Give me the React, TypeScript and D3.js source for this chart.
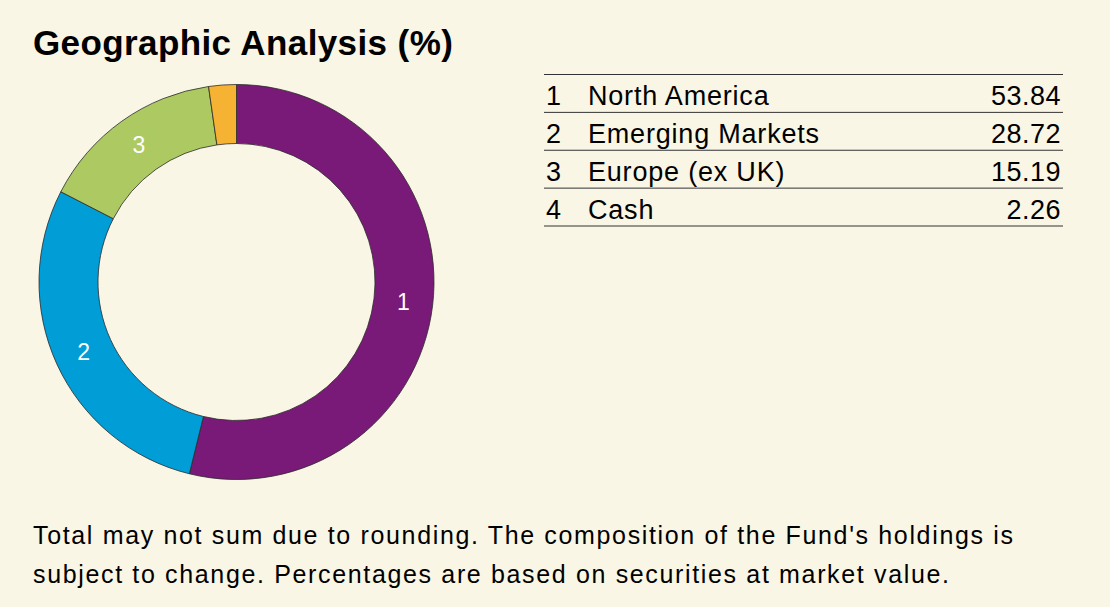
import React from "react";
import * as d3 from "d3";

const categories = ["North America", "Emerging Markets", "Europe (ex UK)", "Cash"];
const values = [53.84, 28.72, 15.19, 2.26];
const valueLabels = ["53.84", "28.72", "15.19", "2.26"];
const colors = ["#7a1a78", "#009dd7", "#adc962", "#f6b233"];
const footerLines = [
  "Total may not sum due to rounding. The composition of the Fund's holdings is",
  "subject to change. Percentages are based on securities at market value.",
];

const W = 1110;
const H = 607;
const font = "'Liberation Sans', Arial, Helvetica, sans-serif";

export default function App() {
  const cx = 236.5;
  const cy = 282;
  const outerR = 197.5;
  const innerR = 138.5;
  const pie = d3.pie<number>().sort(null).value((d) => d)(values);
  const arc = d3.arc<d3.PieArcDatum<number>>().innerRadius(innerR).outerRadius(outerR);

  const rowY = d3.scaleBand<number>().domain(d3.range(categories.length)).range([74.5, 226]);

  return (
    <svg width={W} height={H} style={{ position: "absolute", left: 0, top: 0, display: "block" }}>
      <rect x={0} y={0} width={W} height={H} fill="#f9f6e6" />
      <text x={33} y={55} fontFamily={font} fontWeight="bold" fontSize={35} letterSpacing={0.4} fill="#000">
        Geographic Analysis (%)
      </text>
      <g transform={`translate(${cx},${cy})`}>
        {pie.map((p, i) => (
          <path key={i} d={arc(p) || ""} fill={colors[i]} stroke="#2a2a2a" strokeWidth={0.8} />
        ))}
        {pie.map((p, i) => {
          if (i === 3) return null;
          const [x, y] = arc.centroid(p);
          return (
            <text
              key={i}
              x={x}
              y={y}
              dy="0.36em"
              textAnchor="middle"
              fontFamily={font}
              fontSize={23}
              fill="#fff"
            >
              {i + 1}
            </text>
          );
        })}
      </g>
      <g>
        <line x1={544} x2={1063} y1={74.5} y2={74.5} stroke="#333" strokeWidth={1} />
        {categories.map((c, i) => {
          const y0 = rowY(i) as number;
          const bw = rowY.bandwidth();
          const base = y0 + bw - 7.3;
          return (
            <g key={c}>
              <text x={546} y={base} fontFamily={font} fontSize={27} fill="#000">
                {i + 1}
              </text>
              <text x={588} y={base} fontFamily={font} fontSize={27} letterSpacing={0.8} fill="#000">
                {c}
              </text>
              <text x={1061} y={base} textAnchor="end" fontFamily={font} fontSize={27} letterSpacing={0.5} fill="#000">
                {valueLabels[i]}
              </text>
              <line x1={544} x2={1063} y1={y0 + bw} y2={y0 + bw} stroke="#333" strokeWidth={1} />
            </g>
          );
        })}
      </g>
      {footerLines.map((l, i) => (
        <text key={i} x={33} y={544 + i * 39} fontFamily={font} fontSize={25} letterSpacing={1.65} fill="#000">
          {l}
        </text>
      ))}
    </svg>
  );
}
